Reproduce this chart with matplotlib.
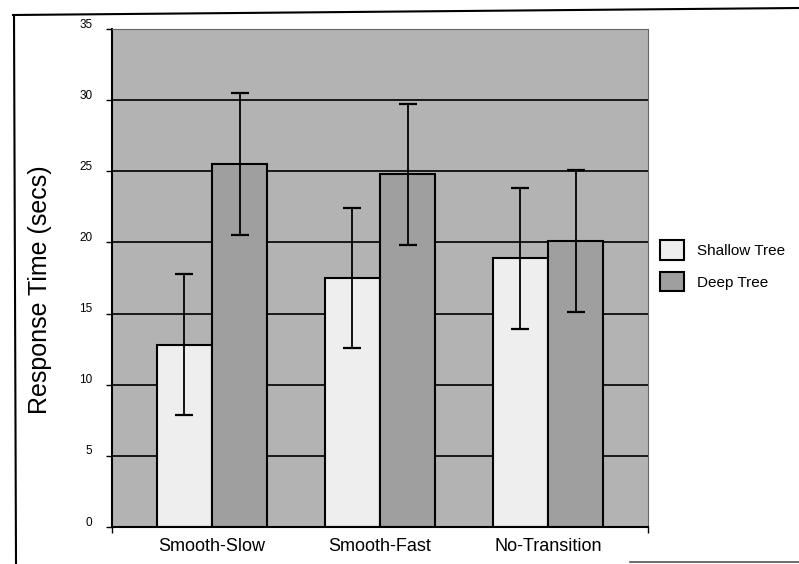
import numpy as np
import matplotlib
matplotlib.use("Agg")
import matplotlib.pyplot as plt
import matplotlib.transforms as mtransforms
from matplotlib.patches import Patch
from matplotlib.lines import Line2D

# values
categories = ["Smooth-Slow", "Smooth-Fast", "No-Transition"]
shallow_tree = [12.8, 17.5, 18.9]
deep_tree = [25.5, 24.8, 20.1]
shallow_err = [4.95, 4.9, 4.95]
deep_err = [5.0, 4.95, 5.0]
y_ticks = [0, 5, 10, 15, 20, 25, 30, 35]

plt.rcParams["font.family"] = ["Liberation Sans", "DejaVu Sans"]

W, H = 799, 564
fig = plt.figure(figsize=(W / 100, H / 100), dpi=100)
ax = fig.add_axes([112 / W, (H - 527) / H, 536 / W, (527 - 29) / H])

ax.set_facecolor("#b3b3b3")
ax.set_axisbelow(True)

x = np.arange(len(categories))
width = 0.33

ax.bar(x - width / 2, shallow_tree, width, color="#eeeeee", edgecolor="black",
       linewidth=1.5, zorder=2, label="Shallow Tree")
ax.bar(x + width / 2, deep_tree, width, color="#9f9f9f", edgecolor="black",
       linewidth=1.5, zorder=2, label="Deep Tree")
ax.errorbar(x - width / 2, shallow_tree, yerr=shallow_err, fmt="none", ecolor="black",
            elinewidth=1.3, capsize=6.5, capthick=1.6, zorder=3)
ax.errorbar(x + width / 2, deep_tree, yerr=deep_err, fmt="none", ecolor="black",
            elinewidth=1.3, capsize=6.5, capthick=1.6, zorder=3)

ax.set_xlim(-0.595, 2.595)
ax.set_ylim(0, 35)
ax.set_yticks(y_ticks)
ax.yaxis.grid(True, color="black", linewidth=1.2, zorder=1)

ax.set_xticks(x)
ax.set_xticklabels(categories, fontsize=13)
ax.set_xticks([-0.595, 2.595], minor=True)
ax.tick_params(axis="x", which="major", length=0, pad=8)
ax.tick_params(axis="x", which="minor", length=4, width=1, direction="out")
ax.tick_params(axis="y", length=4, width=1, direction="out", labelsize=8.5, pad=10)

# tick labels sit a little above their gridlines in the original
offset = mtransforms.ScaledTranslation(0, 6 / 100, fig.dpi_scale_trans)
for lbl in ax.get_yticklabels():
    lbl.set_transform(lbl.get_transform() + offset)

for side in ["left", "bottom"]:
    ax.spines[side].set_linewidth(1.5)
    ax.spines[side].set_color("black")
for side in ["top", "right"]:
    ax.spines[side].set_linewidth(0.8)
    ax.spines[side].set_color("#666666")

ax.set_ylabel("Response Time (secs)", fontsize=18, va="center")
ax.yaxis.set_label_coords(-0.134, 0.476)

handles = [Patch(facecolor="#eeeeee", edgecolor="black", linewidth=1.5),
           Patch(facecolor="#9f9f9f", edgecolor="black", linewidth=1.5)]
fig.legend(handles, ["Shallow Tree", "Deep Tree"], loc="upper left",
           bbox_to_anchor=(660 / W, 1 - 240 / H), frameon=False, fontsize=11,
           handlelength=1.6, handleheight=1.6, handletextpad=0.85,
           labelspacing=0.8, borderpad=0, borderaxespad=0)

# scan frame lines around the figure
fig.add_artist(Line2D([13 / W, 1], [1 - 15 / H, 1 - 8 / H], color="black", linewidth=1.5))
fig.add_artist(Line2D([14 / W, 16 / W], [1 - 15 / H, 0], color="black", linewidth=1.5))
fig.add_artist(Line2D([630 / W, 1], [1 - 562 / H, 1 - 562 / H], color="#555555", linewidth=1.2))

fig.savefig("out.png", dpi=100)
